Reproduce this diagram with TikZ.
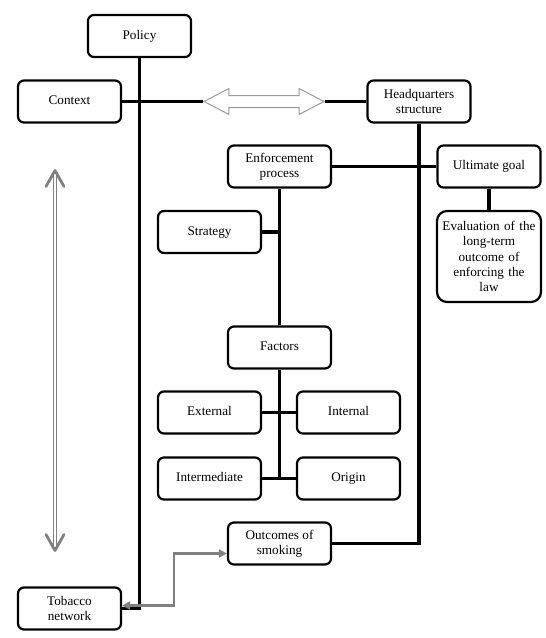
\documentclass[tikz,border=0pt]{standalone}
\usepackage{fontspec}
\setmainfont{Liberation Serif}
\usetikzlibrary{calc,shapes.arrows,arrows.meta}

\begin{document}
\begin{tikzpicture}[x=1pt,y=-1pt,
    box/.style={draw,line width=2.2pt,rounded corners=6pt,minimum width=103pt,minimum height=42pt,
        align=center,inner sep=2pt,font={\fontsize{13.2pt}{15.4pt}\selectfont}},
    oneline/.style={box,text height=9pt,text depth=3pt},
    link/.style={line width=3.4pt},
    grayarrow/.style={gray,line width=2.6pt,{Triangle[length=8pt,width=8pt]}-{Triangle[length=8pt,width=8pt]}},
    lifeline/.style={draw=gray,double=white,double distance=1.6pt,line width=1.6pt},
    chevron/.style={gray,line width=2.8pt,line join=round,line cap=round}]
    \useasboundingbox (0,0) rectangle (546,638);

    % top row
    \node[oneline] (policy) at (139.5,36) {Policy};
    \node[oneline] (context) at (69.5,101.5) {Context};
    \node[box] (hq) at (419,101.5) {Headquarters\\structure};
    \node[draw=gray!80,line width=1pt,double arrow,double arrow tip angle=55,
        double arrow head extend=7pt,minimum height=120pt,minimum width=25pt,
        inner xsep=0pt,inner ysep=5.5pt] (swap) at (264,101.5) {};

    % enforcement side
    \node[box] (enforce) at (279.5,166.5) {Enforcement\\process};
    \node[oneline] (goal) at (489,166.5) {Ultimate goal};
    \node[box,rounded corners=10pt,minimum height=91pt,text width=100pt] (eval) at (489,256.5)
        {Evaluation of the\\long-term\\outcome of\\enforcing the\\law};
    \node[oneline] (strategy) at (209.5,232) {Strategy};
    \node[oneline] (factors) at (279.5,347.5) {Factors};

    % the four kinds of factors
    \foreach \nm/\x/\y/\txt in {external/209.5/412.5/External,internal/348.5/412.5/Internal,
        intermediate/209.5/478.5/Intermediate,origin/348.5/478.5/Origin}{
        \node[oneline] (\nm) at (\x,\y) {\txt};
    }

    % bottom
    \node[box] (outcomes) at (279.5,543.5) {Outcomes of\\smoking};
    \node[box] (tobacco) at (69.5,608.5) {Tobacco\\network};

    % black links
    \draw[link] (policy.south) |- (tobacco.east);
    \draw[link] (context.east) -- (swap.west);
    \draw[link] (swap.east) -- (hq.west);
    \draw[link] (hq.south) |- (outcomes.east);
    \draw[link] (enforce.east) -- (goal.west);
    \draw[link] (goal.south) -- (eval.north);
    \draw[link] (enforce.south) -- (factors.north);
    \draw[link] (strategy.east) -- (strategy.east -| enforce.south);
    \draw[link] (factors.south) -- (factors.south |- intermediate.east);
    \draw[link] (external.east) -- (internal.west);
    \draw[link] (intermediate.east) -- (origin.west);

    % gray two-way arrow at the bottom
    \coordinate (gbend) at (174,605.5);
    \draw[grayarrow] ([yshift=3pt]tobacco.east) -- (gbend) |- ([yshift=-10pt]outcomes.west);

    % long double arrow on the left
    \coordinate (lifetop) at (55,170.5);
    \coordinate (lifebot) at (55,550.5);
    \draw[lifeline] ($(lifetop)+(0,2)$) -- ($(lifebot)+(0,-2)$);
    \draw[chevron] ($(lifetop)+(-9,16)$) -- (lifetop) -- ($(lifetop)+(9,16)$);
    \draw[chevron] ($(lifebot)+(-9,-16)$) -- (lifebot) -- ($(lifebot)+(9,-16)$);
\end{tikzpicture}
\end{document}
